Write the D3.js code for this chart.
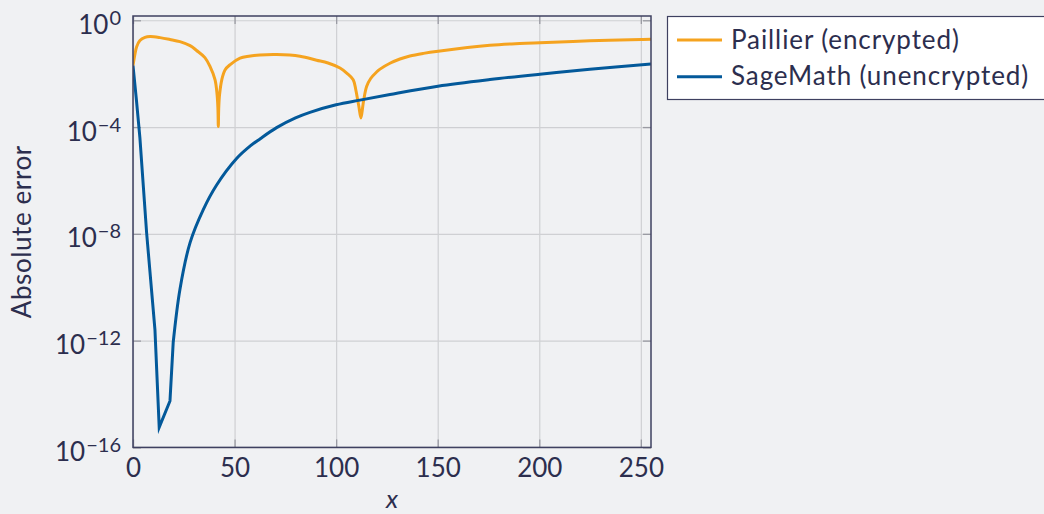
<!DOCTYPE html>
<html>
<head>
<meta charset="utf-8">
<script src="https://cdn.jsdelivr.net/npm/d3@7"></script>
<style>
  html, body { margin: 0; padding: 0; background: #f0f1f3; }
  svg { display: block; font-family: Lato, "Open Sans", sans-serif; }
</style>
</head>
<body>
<svg id="chart" width="1044" height="514"></svg>
<script>
// ---- data ----
const seriesNames = ["Paillier (encrypted)", "SageMath (unencrypted)"];

const paillierX = [0, 1, 1.8, 3.4, 5.9, 8.4, 13.3, 18.2, 23.1, 28.1, 31.3, 35.4, 37.9, 40.4, 41.4, 41.8, 42.0, 42.2, 42.6, 43.7, 45.3, 47.7, 52.7, 57, 62.5, 70.7, 82.2, 90.4, 96, 101.9, 105.2, 108.4, 109.7, 110.6, 111.2, 112.2, 113.1, 113.6, 115.0, 117, 119.9, 121.6, 126.5, 131.4, 136.3, 143, 150.2, 175.7, 190.4, 200.3, 224.9, 250.3, 255];
const paillierY = [2.0e-2, 5.6e-2, 1.02e-1, 1.74e-1, 2.29e-1, 2.45e-1, 2.24e-1, 1.91e-1, 1.58e-1, 1.12e-1, 7.4e-2, 4.0e-2, 1.86e-2, 5.9e-3, 1.6e-3, 5.0e-4, 1.05e-4, 5.0e-4, 1.6e-3, 5.9e-3, 1.38e-2, 2.14e-2, 3.8e-2, 4.5e-2, 5.0e-2, 5.2e-2, 4.5e-2, 3.2e-2, 2.5e-2, 1.62e-2, 1.05e-2, 5.9e-3, 2.45e-3, 1.05e-3, 5.9e-4, 2.2e-4, 5.9e-4, 1.05e-3, 3.3e-3, 6.6e-3, 1.15e-2, 1.48e-2, 2.45e-2, 3.55e-2, 4.6e-2, 5.75e-2, 6.9e-2, 1.15e-1, 1.35e-1, 1.45e-1, 1.70e-1, 1.91e-1, 1.95e-1];

const sageX = [0, 1.7, 3.4, 6.7, 10.8, 12.9, 18.2, 19.8, 23.1, 28.1, 34.6, 41.1, 51.0, 57.9, 62.5, 70.7, 80, 87.1, 100, 111.7, 126.5, 150.1, 175.7, 200.3, 224.9, 255];
const sageY = [2.0e-2, 1.0e-3, 3.9e-5, 1.1e-8, 2.6e-12, 5.6e-16, 5.5e-15, 8.7e-13, 8.3e-11, 4.7e-9, 8.1e-8, 6.6e-7, 6.6e-6, 2.0e-5, 3.6e-5, 9.5e-5, 2.2e-4, 3.55e-4, 6.8e-4, 1.02e-3, 1.66e-3, 3.4e-3, 6.0e-3, 9.5e-3, 1.45e-2, 2.3e-2];

const xTicks = [0, 50, 100, 150, 200, 250];
const yTicks = [1e0, 1e-4, 1e-8, 1e-12, 1e-16];
const yTickExp = ["0", "\u22124", "\u22128", "\u221212", "\u221216"];

const xLabel = "x";
const yLabel = "Absolute error";
const colors = ["#f5a31f", "#03599a"];

// ---- layout ----
const svg = d3.select("#chart");
const L = 133, R = 651, T = 16, B = 447.4;
const textColor = "#2c2e4e";

const x = d3.scaleLinear().domain([0, 255]).range([L, R]);
const y = d3.scaleLog().domain([1e-16, Math.pow(10, 0.16)]).range([B, T]);

// grid
const grid = svg.append("g");
grid.append("g").attr("transform", `translate(0,${B})`)
  .call(d3.axisBottom(x).tickValues(xTicks).tickSize(-(B - T)).tickFormat(""))
  .call(g => g.select(".domain").remove())
  .call(g => g.selectAll("line").attr("stroke", "#cfd0d3").attr("stroke-width", 1.2));
grid.append("g").attr("transform", `translate(${L},0)`)
  .call(d3.axisLeft(y).tickValues(yTicks).tickSize(-(R - L)).tickFormat(""))
  .call(g => g.select(".domain").remove())
  .call(g => g.selectAll("line").attr("stroke", "#cfd0d3").attr("stroke-width", 1.2));

// inner tick marks on all four sides
const tickCol = "#9a9ba3";
const tk = 8;
svg.append("g").attr("transform", `translate(0,${B})`)
  .call(d3.axisBottom(x).tickValues(xTicks).tickSize(-tk).tickFormat(""))
  .call(g => g.select(".domain").remove())
  .call(g => g.selectAll("line").attr("stroke", tickCol).attr("stroke-width", 1.3));
svg.append("g").attr("transform", `translate(0,${T})`)
  .call(d3.axisTop(x).tickValues(xTicks).tickSize(-tk).tickFormat(""))
  .call(g => g.select(".domain").remove())
  .call(g => g.selectAll("line").attr("stroke", tickCol).attr("stroke-width", 1.3));
svg.append("g").attr("transform", `translate(${L},0)`)
  .call(d3.axisLeft(y).tickValues(yTicks).tickSize(-tk).tickFormat(""))
  .call(g => g.select(".domain").remove())
  .call(g => g.selectAll("line").attr("stroke", tickCol).attr("stroke-width", 1.3));
svg.append("g").attr("transform", `translate(${R},0)`)
  .call(d3.axisRight(y).tickValues(yTicks).tickSize(-tk).tickFormat(""))
  .call(g => g.select(".domain").remove())
  .call(g => g.selectAll("line").attr("stroke", tickCol).attr("stroke-width", 1.3));

// lines
svg.append("clipPath").attr("id", "clip")
  .append("rect").attr("x", L).attr("y", T).attr("width", R - L).attr("height", B - T);
const smooth = d3.line().x(d => x(d[0])).y(d => y(d[1])).curve(d3.curveCatmullRom.alpha(0.5));
const straight = d3.line().x(d => x(d[0])).y(d => y(d[1]));

const pail = d3.zip(paillierX, paillierY);
const sage = d3.zip(sageX, sageY);
// the SageMath series is sampled coarsely around its minimum: draw the
// descent, minimum and kink with straight segments, the rest smoothly
const kink = d3.leastIndex(sage, d => d[1]) + 2;

const plot = svg.append("g").attr("clip-path", "url(#clip)")
  .attr("fill", "none").attr("stroke-width", 3)
  .attr("stroke-linejoin", "miter").attr("stroke-miterlimit", 10);
plot.append("path").attr("d", smooth(pail)).attr("stroke", colors[0]);
plot.append("path")
  .attr("d", straight(sage.slice(0, kink + 1)) + smooth(sage.slice(kink)).replace(/^M[^LC]*/, ""))
  .attr("stroke", colors[1]);

// frame
svg.append("rect").attr("x", L).attr("y", T).attr("width", R - L).attr("height", B - T)
  .attr("fill", "none").attr("stroke", "#3e4060").attr("stroke-width", 1.5);

// x tick labels
const xAx = svg.append("g").attr("transform", `translate(0,${B})`)
  .call(d3.axisBottom(x).tickValues(xTicks).tickSize(0).tickPadding(0).tickFormat(d3.format("d")));
xAx.select(".domain").remove();
xAx.selectAll("text").attr("dy", null).attr("y", 30)
  .attr("fill", textColor).attr("font-size", 26).attr("font-family", "Lato, sans-serif");

// y tick labels with superscripts
const yAx = svg.append("g").attr("transform", `translate(${L},0)`)
  .call(d3.axisLeft(y).tickValues(yTicks).tickSize(0).tickFormat(""));
yAx.select(".domain").remove();
yAx.selectAll(".tick").each(function(d, i) {
  const t = d3.select(this).select("text");
  t.text(null).attr("x", -12).attr("dy", null).attr("y", 13)
    .attr("text-anchor", "end").attr("fill", textColor)
    .attr("font-size", 26).attr("font-family", "Lato, sans-serif");
  t.append("tspan").text("10");
  t.append("tspan").attr("dy", -9).attr("dx", 1).attr("font-size", 20).text(yTickExp[i]);
});

// axis labels
svg.append("text").attr("x", (L + R) / 2).attr("y", 508)
  .attr("text-anchor", "middle").attr("font-style", "italic")
  .attr("fill", textColor).attr("font-size", 26).text(xLabel);
svg.append("text").attr("transform", `translate(31,${(T + B) / 2}) rotate(-90)`)
  .attr("text-anchor", "middle").attr("fill", textColor).attr("font-size", 26)
  .attr("letter-spacing", 0.6).text(yLabel);

// legend
const lg = svg.append("g");
lg.append("rect").attr("x", 667.5).attr("y", 16.5).attr("width", 420).attr("height", 83)
  .attr("fill", "#ffffff").attr("stroke", "#3e4060").attr("stroke-width", 1.2);
const rows = lg.selectAll("g.row").data(seriesNames).join("g")
  .attr("transform", (d, i) => `translate(0,${40 + i * 36.7})`);
rows.append("line").attr("x1", 677).attr("x2", 722).attr("y1", 0).attr("y2", 0)
  .attr("stroke", (d, i) => colors[i]).attr("stroke-width", 3);
rows.append("text").attr("x", 731).attr("y", 8.5)
  .attr("fill", textColor).attr("font-size", 26).attr("letter-spacing", 0.9).text(d => d);
</script>
</body>
</html>
